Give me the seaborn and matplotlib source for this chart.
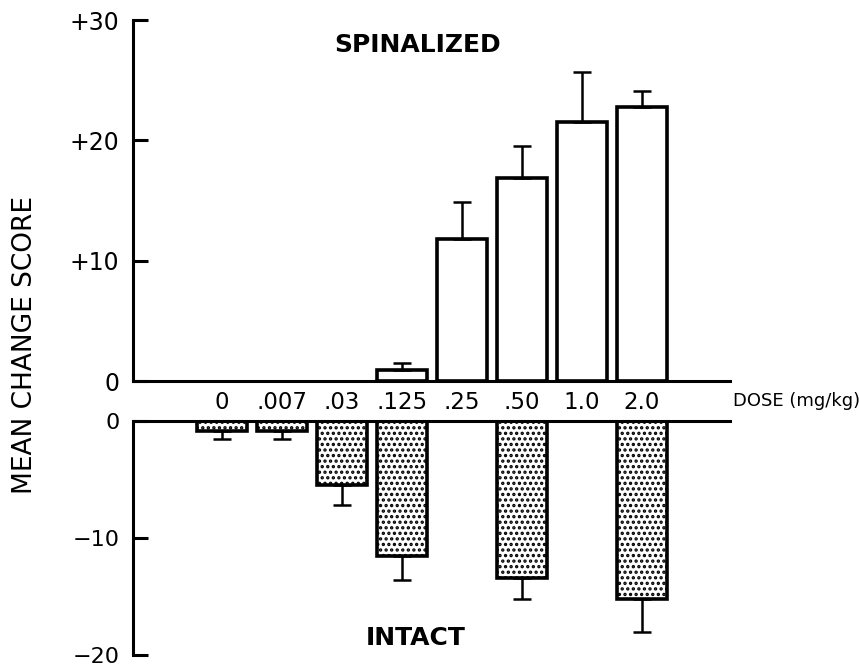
import numpy as np
import pandas as pd
import matplotlib
matplotlib.use('Agg')
import matplotlib.pyplot as plt
import seaborn as sns

# Data
doses = ['0', '.007', '.03', '.125', '.25', '.50', '1.0', '2.0']
spinal_mean = [np.nan, np.nan, np.nan, 0.9, 11.8, 16.9, 21.5, 22.8]
spinal_err = [np.nan, np.nan, np.nan, 0.6, 3.1, 2.6, 4.2, 1.3]
intact_mean = [-0.9, -0.9, -5.5, -11.5, np.nan, -13.4, np.nan, -15.2]
intact_err = [0.6, 0.6, 1.7, 2.1, np.nan, 1.8, np.nan, 2.8]

sns.set_style('white')
plt.rcParams['font.family'] = ['DejaVu Sans']
plt.rcParams['hatch.linewidth'] = 1.6
for key in ['text.color', 'axes.labelcolor', 'xtick.color', 'ytick.color']:
    plt.rcParams[key] = 'black'

fig = plt.figure(figsize=(8.59, 6.7), dpi=100)
ax_top = fig.add_axes([0.155, 0.4313, 0.695, 0.5388])
ax_bot = fig.add_axes([0.155, 0.0224, 0.695, 0.3493])

lw = 2.2
xpos = np.arange(len(doses))

# Spinalized (top panel)
top_df = pd.DataFrame({'dose': doses, 'score': spinal_mean})
sns.barplot(data=top_df, x='dose', y='score', order=doses, ax=ax_top,
            color='white', edgecolor='black', linewidth=2.6, width=0.83,
            errorbar=None, saturation=1)
ax_top.errorbar(xpos, spinal_mean, yerr=[np.zeros(len(doses)), spinal_err],
                fmt='none', ecolor='black', elinewidth=1.8, capsize=6.5,
                capthick=1.8, zorder=1)
ax_top.set_xlim(-1.48, 8.47)
ax_top.set_ylim(0, 30)
ax_top.set_yticks([0, 10, 20, 30])
ax_top.set_yticklabels(['0', '+10', '+20', '+30'])
ax_top.tick_params(axis='y', direction='in', length=11, width=lw, pad=10,
                   labelsize=17, left=True)
ax_top.tick_params(axis='x', length=0, pad=7, labelsize=16.5)
ax_top.set_xlabel('')
ax_top.set_ylabel('')
for side in ['top', 'right']:
    ax_top.spines[side].set_visible(False)
for side in ['left', 'bottom']:
    ax_top.spines[side].set_linewidth(lw)
    ax_top.spines[side].set_color('black')

# Intact (bottom panel)
bot_df = pd.DataFrame({'dose': doses, 'score': intact_mean})
sns.barplot(data=bot_df, x='dose', y='score', order=doses, ax=ax_bot,
            color='white', edgecolor='black', linewidth=2.6, width=0.83,
            errorbar=None, saturation=1, hatch='...')
ax_bot.errorbar(xpos, intact_mean, yerr=[intact_err, np.zeros(len(doses))],
                fmt='none', ecolor='black', elinewidth=1.8, capsize=6.5,
                capthick=1.8, zorder=1)
ax_bot.set_xlim(-1.48, 8.47)
ax_bot.set_ylim(-20, 0)
ax_bot.set_yticks([-20, -10, 0])
ax_bot.set_yticklabels(['\u221220', '\u221210', '0'])
ax_bot.tick_params(axis='y', direction='in', length=11, width=lw, pad=10,
                   labelsize=16, left=True)
ax_bot.set_xticks([])
ax_bot.set_xlabel('')
ax_bot.set_ylabel('')
for side in ['bottom', 'right']:
    ax_bot.spines[side].set_visible(False)
for side in ['left', 'top']:
    ax_bot.spines[side].set_linewidth(lw)
    ax_bot.spines[side].set_color('black')

fig.text(733 / 859, 1 - 401 / 670, 'DOSE (mg/kg)', ha='left', va='center',
         fontsize=13)
fig.text(418 / 859, 1 - 45 / 670, 'SPINALIZED', ha='center', va='center',
         fontsize=18, fontweight='bold')
fig.text(416 / 859, 1 - 638 / 670, 'INTACT', ha='center', va='center',
         fontsize=18, fontweight='bold')
fig.text(25 / 859, 1 - 345 / 670, 'MEAN CHANGE SCORE', rotation=90,
         ha='center', va='center', fontsize=19)

fig.savefig('out.png', dpi=100)
